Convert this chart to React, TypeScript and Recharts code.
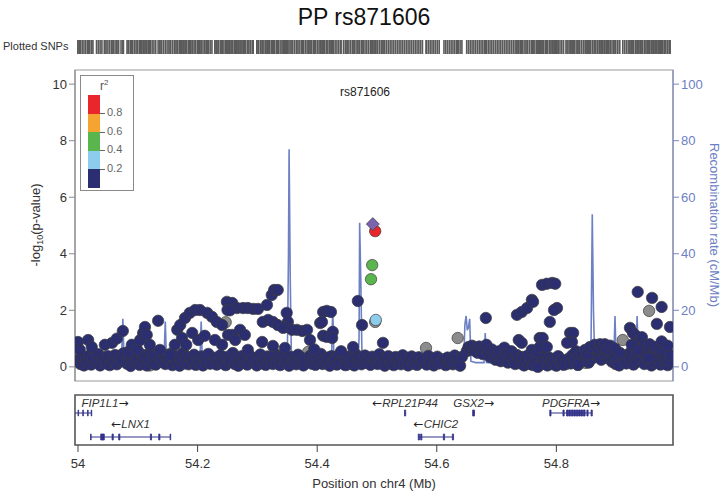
import React from 'react';
import { ComposedChart, Scatter, Line, XAxis, YAxis, ReferenceArea, ReferenceLine } from 'recharts';

// chr4 window (Mb), 500 kb either side of the lead SNP
const X_DOMAIN: [number, number] = [53.995, 54.995];
const positionTicks = [54, 54.2, 54.4, 54.6, 54.8];
const logpTicks = [0, 2, 4, 6, 8, 10];
const recombTicks = [0, 20, 40, 60, 80, 100];

const leadName = 'rs871606';
const leadSnp: [number, number] = [54.493, 5.05];

// [position Mb, -log10 p] grouped by LD (r2) bin
const snpR2Top: [number, number][] = [[54.497, 4.8]];
const snpR2Mid: [number, number][] = [[54.492, 3.6], [54.49, 3.1]];
const snpR2Low: [number, number][] = [[54.498, 1.66]];
const snpNoLd: [number, number][] = [
  [54.497, 1.59], [54.582, 0.67], [54.635, 1.02], [54.816, 0.1], [54.849, 0.14], [54.911, 0.95],
  [54.955, 1.98], [54.12, 0.05], [54.247, 1.58], [54.385, 0.53], [54.232, 0.1], [54.45, 0.08],
];
const snpR2Min: [number, number][] = [
  // low band
  [54.0, 0.25], [54.004, 0.1], [54.007, 0.35], [54.01, 0.05], [54.013, 0.28], [54.016, 0.15], [54.019, 0.4],
  [54.022, 0.08], [54.025, 0.3], [54.031, 0.18], [54.034, 0.45], [54.037, 0.05], [54.04, 0.22], [54.044, 0.33],
  [54.047, 0.12], [54.05, 0.38], [54.053, 0.06], [54.056, 0.27], [54.059, 0.16], [54.062, 0.42], [54.065, 0.09],
  [54.068, 0.31], [54.072, 0.2], [54.076, 0.48], [54.082, 0.11], [54.085, 0.36], [54.088, 0.03], [54.091, 0.24],
  [54.094, 0.4], [54.097, 0.14], [54.1, 0.3], [54.103, 0.07], [54.106, 0.45], [54.109, 0.19], [54.112, 0.34],
  [54.115, 0.05], [54.118, 0.26], [54.121, 0.52], [54.124, 0.13], [54.127, 0.38], [54.13, 0.08], [54.137, 0.29],
  [54.14, 0.17], [54.143, 0.44], [54.146, 0.1], [54.149, 0.33], [54.152, 0.21], [54.155, 0.47], [54.158, 0.06],
  [54.161, 0.28], [54.164, 0.15], [54.167, 0.39], [54.17, 0.04], [54.173, 0.25], [54.176, 0.5], [54.179, 0.12],
  [54.182, 0.35], [54.185, 0.09], [54.188, 0.31], [54.191, 0.18], [54.194, 0.43], [54.197, 0.07], [54.2, 0.26],
  [54.203, 0.14], [54.206, 0.37], [54.209, 0.05], [54.212, 0.29], [54.215, 0.2], [54.218, 0.46], [54.221, 0.11],
  [54.229, 0.32], [54.232, 0.08], [54.235, 0.24], [54.238, 0.41], [54.241, 0.13], [54.244, 0.3], [54.247, 0.06],
  [54.25, 0.36], [54.253, 0.18], [54.256, 0.27], [54.259, 0.49], [54.262, 0.1], [54.265, 0.34], [54.268, 0.04],
  [54.271, 0.22], [54.274, 0.38], [54.277, 0.15], [54.28, 0.29], [54.283, 0.08], [54.286, 0.42], [54.289, 0.19],
  [54.292, 0.33], [54.299, 0.05], [54.302, 0.26], [54.305, 0.44], [54.308, 0.12], [54.311, 0.31], [54.314, 0.07],
  [54.317, 0.37], [54.32, 0.21], [54.323, 0.28], [54.326, 0.1], [54.329, 0.47], [54.332, 0.16], [54.335, 0.34],
  [54.338, 0.06], [54.341, 0.25], [54.344, 0.4], [54.347, 0.13], [54.35, 0.3], [54.353, 0.04], [54.356, 0.36],
  [54.359, 0.2], [54.362, 0.27], [54.365, 0.09], [54.368, 0.43], [54.371, 0.17], [54.374, 0.32], [54.377, 0.05],
  [54.38, 0.24], [54.388, 0.39], [54.391, 0.11], [54.394, 0.29], [54.397, 0.07], [54.4, 0.35], [54.403, 0.19],
  [54.406, 0.46], [54.409, 0.1], [54.412, 0.26], [54.415, 0.14], [54.418, 0.33], [54.421, 0.04], [54.424, 0.38],
  [54.427, 0.21], [54.43, 0.28], [54.433, 0.08], [54.436, 0.42], [54.439, 0.16], [54.444, 0.31], [54.447, 0.06],
  [54.45, 0.25], [54.453, 0.37], [54.456, 0.12], [54.459, 0.29], [54.462, 0.05], [54.465, 0.44], [54.468, 0.18],
  [54.471, 0.33], [54.474, 0.09], [54.477, 0.26], [54.48, 0.4], [54.483, 0.14], [54.486, 0.3], [54.489, 0.07],
  [54.492, 0.36], [54.495, 0.2], [54.498, 0.27], [54.501, 0.1], [54.504, 0.45], [54.507, 0.16], [54.51, 0.31],
  [54.513, 0.04], [54.516, 0.23], [54.519, 0.38], [54.522, 0.12], [54.525, 0.29], [54.528, 0.06], [54.531, 0.35],
  [54.534, 0.19], [54.537, 0.26], [54.54, 0.09], [54.543, 0.41], [54.546, 0.15], [54.549, 0.32], [54.552, 0.05],
  [54.555, 0.24], [54.558, 0.37], [54.561, 0.11], [54.564, 0.28], [54.567, 0.07], [54.57, 0.34], [54.573, 0.18],
  [54.576, 0.25], [54.583, 0.08], [54.586, 0.39], [54.589, 0.14], [54.592, 0.3], [54.595, 0.05], [54.598, 0.22],
  [54.601, 0.36], [54.604, 0.12], [54.612, 0.27], [54.615, 0.06], [54.618, 0.33], [54.621, 0.17], [54.624, 0.24],
  [54.627, 0.09], [54.63, 0.4], [54.633, 0.13], [54.636, 0.29], [54.639, 0.04], [54.642, 0.35], [54.65, 0.55],
  [54.653, 0.7], [54.656, 0.62], [54.659, 0.75], [54.662, 0.58], [54.665, 0.68], [54.668, 0.5], [54.671, 0.72],
  [54.674, 0.6], [54.677, 0.45], [54.68, 0.66], [54.683, 0.78], [54.686, 0.52], [54.689, 0.35], [54.692, 0.62],
  [54.695, 0.48], [54.698, 0.25], [54.701, 0.4], [54.704, 0.55], [54.707, 0.2], [54.71, 0.32], [54.713, 0.68],
  [54.716, 0.45], [54.719, 0.15], [54.722, 0.38], [54.725, 0.55], [54.728, 0.27], [54.731, 0.1], [54.734, 0.42],
  [54.737, 0.3], [54.74, 0.12], [54.743, 0.35], [54.746, 0.05], [54.749, 0.22], [54.752, 0.4], [54.755, 0.1],
  [54.758, 0.28], [54.761, 0.06], [54.764, 0.18], [54.77, 0.3], [54.773, 0.08], [54.776, 0.24], [54.779, 0.45],
  [54.782, 0.14], [54.785, 0.05], [54.788, 0.33], [54.791, 0.2], [54.794, 0.09], [54.797, 0.27], [54.8, 0.04],
  [54.803, 0.38], [54.806, 0.16], [54.809, 0.25], [54.812, 0.07], [54.821, 0.3], [54.824, 0.12], [54.827, 0.42],
  [54.83, 0.2], [54.833, 0.55], [54.836, 0.07], [54.839, 0.34], [54.842, 0.5], [54.845, 0.22], [54.851, 0.4],
  [54.854, 0.15], [54.857, 0.52], [54.86, 0.3], [54.863, 0.45], [54.866, 0.6], [54.869, 0.38], [54.872, 0.55],
  [54.875, 0.25], [54.878, 0.62], [54.881, 0.44], [54.884, 0.58], [54.887, 0.3], [54.89, 0.5], [54.893, 0.18],
  [54.896, 0.42], [54.899, 0.1], [54.902, 0.28], [54.905, 0.05], [54.914, 0.32], [54.917, 0.12], [54.92, 0.45],
  [54.923, 0.25], [54.926, 0.55], [54.929, 0.08], [54.932, 0.38], [54.935, 0.18], [54.938, 0.62], [54.941, 0.3],
  [54.944, 0.5], [54.947, 0.1], [54.95, 0.4], [54.953, 0.22], [54.956, 0.58], [54.959, 0.05], [54.962, 0.35],
  [54.965, 0.15], [54.968, 0.48], [54.971, 0.26], [54.974, 0.08], [54.977, 0.4], [54.98, 0.18], [54.983, 0.3],
  [54.986, 0.06], [54.989, 0.22],
  // raised points, left side
  [54.0, 0.88], [54.003, 0.6], [54.017, 0.95], [54.023, 0.7], [54.045, 0.78], [54.057, 0.85], [54.065, 1.0],
  [54.075, 1.27], [54.084, 0.53], [54.09, 0.78], [54.099, 0.6], [54.104, 0.95], [54.109, 1.2], [54.112, 1.41],
  [54.115, 1.13], [54.12, 0.78], [54.134, 1.63], [54.137, 0.6], [54.154, 0.42], [54.162, 0.78], [54.166, 1.31],
  [54.171, 1.48], [54.174, 1.02], [54.179, 1.73], [54.181, 0.78], [54.187, 1.91], [54.191, 1.2], [54.196, 2.01],
  [54.201, 0.95], [54.204, 2.01], [54.212, 1.1], [54.216, 1.91], [54.224, 1.77], [54.229, 0.95], [54.232, 1.59],
  [54.241, 1.48], [54.241, 0.78], [54.249, 2.3], [54.25, 2.01], [54.251, 1.13],
  // middle
  [54.258, 2.26], [54.266, 2.08], [54.276, 2.08], [54.284, 2.08], [54.293, 2.05], [54.301, 2.05], [54.254, 2.0],
  [54.316, 2.19], [54.324, 2.54], [54.328, 2.72], [54.334, 2.72], [54.349, 1.91], [54.351, 1.59], [54.346, 1.41],
  [54.309, 1.59], [54.318, 1.66], [54.326, 1.59], [54.334, 1.48], [54.343, 1.38], [54.358, 1.31], [54.366, 1.31],
  [54.375, 1.27], [54.383, 1.31], [54.271, 1.31], [54.279, 1.13], [54.258, 1.13], [54.263, 0.95], [54.284, 0.6],
  [54.308, 0.88], [54.326, 0.74], [54.346, 0.67], [54.388, 0.95], [54.405, 1.55], [54.41, 1.94], [54.416, 1.98],
  [54.423, 1.94], [54.408, 1.59], [54.41, 1.1], [54.416, 1.06], [54.426, 1.24], [54.425, 1.02], [54.468, 2.33],
  [54.475, 1.48], [54.51, 0.85], [54.46, 0.7], [54.44, 0.55], [54.395, 0.62],
  // right side
  [54.682, 1.73], [54.737, 0.95], [54.742, 0.85], [54.734, 1.84], [54.742, 1.94], [54.751, 2.08], [54.759, 2.37],
  [54.761, 2.3], [54.776, 2.9], [54.784, 2.94], [54.793, 2.97], [54.798, 2.94], [54.789, 1.59], [54.801, 2.08],
  [54.796, 2.01], [54.772, 1.02], [54.777, 1.02], [54.759, 0.6], [54.767, 0.53], [54.772, 0.7], [54.784, 0.7],
  [54.769, 0.0], [54.823, 1.2], [54.828, 1.2], [54.826, 0.88], [54.818, 0.85], [54.836, 0.07], [54.848, 0.6],
  [54.852, 0.45], [54.856, 0.7], [54.864, 0.78], [54.869, 0.65], [54.873, 0.8], [54.877, 0.7], [54.881, 0.8],
  [54.885, 0.62], [54.89, 0.75], [54.898, 0.65], [54.906, 0.5], [54.936, 2.65], [54.96, 2.44], [54.976, 2.12],
  [54.968, 1.52], [54.99, 1.41], [54.923, 1.38], [54.928, 1.2], [54.933, 1.1], [54.94, 0.95], [54.943, 1.05],
  [54.948, 0.78], [54.956, 0.8], [54.965, 0.7], [54.973, 0.6], [54.981, 0.55], [54.99, 0.42], [54.926, 0.78],
  [54.936, 0.6], [54.953, 0.32], [54.976, 0.9], [54.986, 0.75],
];

// recombination rate, [position Mb, cM/Mb]
const recombRate: [number, number][] = [
  [53.995, 1.2], [54.01, 0.9], [54.03, 1.5], [54.05, 1.0], [54.071, 1.3], [54.073, 4], [54.075, 17], [54.077, 3],
  [54.079, 1.1], [54.1, 1.0], [54.103, 3], [54.105, 14], [54.107, 2], [54.12, 1.2], [54.142, 1.3], [54.144, 4],
  [54.146, 16], [54.148, 2], [54.16, 1.0], [54.18, 0.5], [54.186, 2.5], [54.192, 2.0], [54.198, 1.0], [54.204, 3],
  [54.206, 16], [54.208, 2], [54.23, 1.2], [54.26, 1.0], [54.3, 1.5], [54.34, 1.2], [54.35, 3], [54.352, 40],
  [54.353, 77], [54.355, 30], [54.357, 2], [54.38, 1.0], [54.4, 1.4], [54.424, 3], [54.426, 21], [54.428, 2],
  [54.45, 1.0], [54.468, 1.5], [54.47, 10], [54.471, 51], [54.473, 30], [54.475, 2], [54.5, 0.8], [54.55, 0.6],
  [54.6, 0.8], [54.64, 1.0], [54.645, 2], [54.647, 15], [54.649, 18], [54.651, 13], [54.653, 14], [54.655, 17],
  [54.657, 2], [54.665, 1.5], [54.679, 1.5], [54.681, 12], [54.683, 1.5], [54.7, 1.2], [54.72, 2.0], [54.73, 1.0],
  [54.76, 0.5], [54.796, 0.8], [54.798, 5], [54.8, 0.8], [54.83, 1.0], [54.855, 1.2], [54.858, 10], [54.86, 54],
  [54.862, 20], [54.864, 3], [54.88, 2.5], [54.896, 2.5], [54.898, 18], [54.9, 2], [54.92, 1.5], [54.933, 2],
  [54.935, 18], [54.937, 2], [54.96, 1.0], [54.995, 0.8],
];

// genes
const geneNames = ['FIP1L1', 'LNX1', 'RPL21P44', 'GSX2', 'CHIC2', 'PDGFRA'];
const geneStart = [53.937, 54.021, 54.546, 54.66, 54.569, 54.789];
const geneEnd = [54.023, 54.155, 54.548, 54.663, 54.628, 54.86];
const geneStrand = ['+', '-', '-', '+', '-', '+'];
const geneRow = [1, 2, 1, 1, 2, 1];
const geneExons: [number, number][][] = [
  [[54.0, 54.001], [54.008, 54.009], [54.016, 54.017], [54.022, 54.023]],
  [[54.021, 54.022], [54.038, 54.044], [54.057, 54.059], [54.068, 54.07], [54.121, 54.123], [54.135, 54.137], [54.154, 54.155]],
  [[54.546, 54.548]],
  [[54.66, 54.663]],
  [[54.569, 54.571], [54.573, 54.575], [54.611, 54.613], [54.626, 54.628]],
  [[54.789, 54.791], [54.811, 54.813], [54.817, 54.82], [54.821, 54.824], [54.825, 54.828], [54.829, 54.832],
    [54.833, 54.836], [54.837, 54.84], [54.841, 54.844], [54.845, 54.848], [54.851, 54.853], [54.858, 54.86]],
];

const r2Labels = ['0.8', '0.6', '0.4', '0.2'];
const ldColors = ['#e8262b', '#f5a431', '#5ab54e', '#8ccdee', '#2b2e70'];
const GREY = '#8c8c8c';
const LEAD = '#7b63ad';
const RECOMB = '#6d80c4';
const GENE = '#33338a';

const FONT = '"Liberation Sans", Arial, sans-serif';
const ROW_LINE_Y: Record<number, number> = { 1: 6.4, 2: 1.6 };
const ROW_TEXT_Y: Record<number, number> = { 1: 7.6, 2: 3.4 };

const toPts = (arr: [number, number][]) => arr.map(([pos, logp]) => ({ pos, logp }));

const circle = (fill: string) => (p: any) => {
  if (p.cx == null || p.cy == null) return <g />;
  return <circle cx={p.cx} cy={p.cy} r={5.7} fill={fill} stroke="#3c3c3c" strokeWidth={0.7} />;
};

const diamond = (p: any) => {
  if (p.cx == null || p.cy == null) return <g />;
  const { cx, cy } = p;
  return (
    <polygon
      points={`${cx},${cy - 6.5} ${cx + 6.5},${cy} ${cx},${cy + 6.5} ${cx - 6.5},${cy}`}
      fill={LEAD}
      stroke="#3c3c3c"
      strokeWidth={0.7}
    />
  );
};

const stripTick = (p: any) => {
  if (p.cx == null) return <g />;
  return <rect x={p.cx - 0.8} y={p.cy - 7} width={1.6} height={14} fill="#5a5a5a" />;
};

const geneLabel = (p: any) => {
  if (p.cx == null) return <g />;
  const { name, strand } = p.payload;
  const halfW = (name.length + 2) * 3.5;
  const cx = Math.max(p.cx, 77 + halfW);
  const arrow = (
    <tspan fontStyle="normal" fontFamily='"DejaVu Sans", sans-serif' fontSize={12} fill="#222">
      {strand === '+' ? '\u2192' : '\u2190'}
    </tspan>
  );
  return (
    <text x={cx} y={p.cy} textAnchor="middle" fontSize={11.5} fontStyle="italic" fill="#333" fontFamily={FONT}>
      {strand === '-' && arrow}
      <tspan>{name}</tspan>
      {strand === '+' && arrow}
    </text>
  );
};

const LeftTitle = () => (
  <text x={40} y={225} transform="rotate(-90 40 225)" textAnchor="middle" fontSize={13} fill="#333" fontFamily={FONT}>
    <tspan>-log</tspan>
    <tspan dy={3} fontSize={9}>10</tspan>
    <tspan dy={-3}>(p-value)</tspan>
  </text>
);

const RightTitle = () => (
  <text x={710} y={225} transform="rotate(90 710 225)" textAnchor="middle" fontSize={13} fill={RECOMB} fontFamily={FONT}>
    Recombination rate (cM/Mb)
  </text>
);

export default function App() {
  const allSnps = [...snpR2Min, ...snpNoLd, ...snpR2Low, ...snpR2Mid, ...snpR2Top, leadSnp];
  const stripData = allSnps.map(([pos]) => ({ pos, y: 0.5 }));
  const recombData = recombRate.map(([pos, rate]) => ({ pos, rate }));

  const genes = geneNames.map((name, i) => {
    const a = Math.max(geneStart[i], X_DOMAIN[0]);
    const b = Math.min(geneEnd[i], X_DOMAIN[1]);
    return { name, strand: geneStrand[i], row: geneRow[i], a, b, exons: geneExons[i], pos: (a + b) / 2, y: ROW_TEXT_Y[geneRow[i]] };
  });

  return (
    <div style={{ position: 'absolute', left: 0, top: 0, width: 728, height: 496, background: '#fff', fontFamily: FONT }}>
      <div style={{ position: 'absolute', left: 0, top: 4, width: 728, textAlign: 'center', fontSize: 23, color: '#111' }}>
        PP {leadName}
      </div>
      <div style={{ position: 'absolute', left: 3, top: 40, fontSize: 11, color: '#333' }}>Plotted SNPs</div>

      <div style={{ position: 'absolute', left: 0, top: 40 }}>
        <ComposedChart width={728} height={14} margin={{ top: 0, right: 55, bottom: 0, left: 75 }}>
          <XAxis type="number" dataKey="pos" domain={X_DOMAIN} hide allowDataOverflow />
          <YAxis type="number" dataKey="y" domain={[0, 1]} hide />
          <Scatter data={stripData} dataKey="y" shape={stripTick} isAnimationActive={false} />
        </ComposedChart>
      </div>

      <div style={{ position: 'absolute', left: 0, top: 0 }}>
        <ComposedChart width={728} height={400} margin={{ top: 70, right: 10, bottom: 19, left: 25 }}>
          <XAxis type="number" dataKey="pos" domain={X_DOMAIN} hide allowDataOverflow />
          <YAxis
            yAxisId="p"
            type="number"
            dataKey="logp"
            domain={[-0.5, 10.5]}
            ticks={logpTicks}
            width={50}
            axisLine={{ stroke: '#8a8a8a' }}
            tickLine={{ stroke: '#8a8a8a' }}
            tickSize={6}
            tick={{ fontSize: 13, fill: '#333', fontFamily: FONT }}
            label={() => <LeftTitle />}
            allowDataOverflow
          />
          <YAxis
            yAxisId="r"
            orientation="right"
            type="number"
            domain={[-5, 105]}
            ticks={recombTicks}
            width={45}
            axisLine={{ stroke: '#7886c0' }}
            tickLine={{ stroke: '#7886c0' }}
            tickSize={6}
            tick={{ fontSize: 13, fill: RECOMB, fontFamily: FONT }}
            label={() => <RightTitle />}
            allowDataOverflow
          />
          <ReferenceArea yAxisId="p" x1={X_DOMAIN[0]} x2={X_DOMAIN[1]} y1={-0.5} y2={10.5} fill="none" stroke="#9a9a9a" strokeWidth={1.2} />
          <Line yAxisId="r" data={recombData} dataKey="rate" type="linear" stroke={RECOMB} strokeWidth={1.6} dot={false} isAnimationActive={false} />
          <Scatter yAxisId="p" data={toPts(snpNoLd)} dataKey="logp" shape={circle(GREY)} isAnimationActive={false} />
          <Scatter yAxisId="p" data={toPts(snpR2Min)} dataKey="logp" shape={circle(ldColors[4])} isAnimationActive={false} />
          <Scatter yAxisId="p" data={toPts(snpR2Low)} dataKey="logp" shape={circle(ldColors[3])} isAnimationActive={false} />
          <Scatter yAxisId="p" data={toPts(snpR2Mid)} dataKey="logp" shape={circle(ldColors[2])} isAnimationActive={false} />
          <Scatter yAxisId="p" data={toPts(snpR2Top)} dataKey="logp" shape={circle(ldColors[0])} isAnimationActive={false} />
          <Scatter yAxisId="p" data={toPts([leadSnp])} dataKey="logp" shape={diamond} isAnimationActive={false} />
        </ComposedChart>
      </div>

      <div style={{ position: 'absolute', left: 340, top: 85, width: 50, textAlign: 'center', fontSize: 12, color: '#222' }}>
        {leadName}
      </div>

      {/* r2 legend */}
      <div style={{ position: 'absolute', left: 80, top: 75, width: 52, height: 114, border: '1px solid #8a8a8a', background: '#fff' }}>
        <div style={{ position: 'absolute', left: 19, top: 2, fontSize: 12, color: '#555' }}>
          r<sup style={{ fontSize: 8 }}>2</sup>
        </div>
        {ldColors.map((c, i) => (
          <div key={c} style={{ position: 'absolute', left: 7, top: 19 + i * 18.6, width: 12, height: 18.6, background: c }} />
        ))}
        {r2Labels.map((l, i) => (
          <React.Fragment key={l}>
            <div style={{ position: 'absolute', left: 19, top: 37 + i * 18.6, width: 5, height: 1, background: '#666' }} />
            <div style={{ position: 'absolute', left: 26, top: 30 + i * 18.6, fontSize: 11, color: '#666' }}>{l}</div>
          </React.Fragment>
        ))}
      </div>

      <div style={{ position: 'absolute', left: 0, top: 385 }}>
        <ComposedChart width={728} height={96} margin={{ top: 10, right: 55, bottom: 6, left: 75 }}>
          <XAxis
            type="number"
            dataKey="pos"
            domain={X_DOMAIN}
            ticks={positionTicks}
            allowDataOverflow
            height={30}
            axisLine={false}
            tickLine={{ stroke: '#444' }}
            tickSize={7}
            tickMargin={7}
            tick={{ fontSize: 13, fill: '#333', fontFamily: FONT }}
          />
          <YAxis type="number" dataKey="y" domain={[0, 10]} hide />
          <ReferenceArea x1={X_DOMAIN[0]} x2={X_DOMAIN[1]} y1={0} y2={10} fill="none" stroke="#555" strokeWidth={1.6} />
          {genes.map((g) => (
            <ReferenceLine
              key={g.name}
              segment={[{ x: g.a, y: ROW_LINE_Y[g.row] }, { x: g.b, y: ROW_LINE_Y[g.row] }]}
              stroke={GENE}
              strokeWidth={1}
            />
          ))}
          {genes.flatMap((g) =>
            g.exons.map(([s, e], j) => (
              <ReferenceArea
                key={`${g.name}-${j}`}
                x1={s}
                x2={e}
                y1={ROW_LINE_Y[g.row] - 0.6}
                y2={ROW_LINE_Y[g.row] + 0.6}
                fill={GENE}
                fillOpacity={1}
                stroke={GENE}
                strokeWidth={0.8}
              />
            ))
          )}
          <Scatter data={genes} dataKey="y" shape={geneLabel} isAnimationActive={false} />
        </ComposedChart>
      </div>
      <div style={{ position: 'absolute', left: 75, width: 598, top: 476, textAlign: 'center', fontSize: 13, color: '#333' }}>
        Position on chr4 (Mb)
      </div>
    </div>
  );
}
